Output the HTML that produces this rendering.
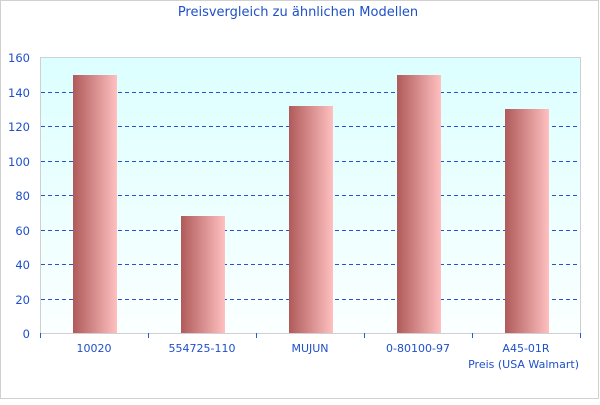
<!DOCTYPE html>
<html><head><style>body{margin:0;background:#fff}</style></head><body>
<svg width="600" height="400" xmlns="http://www.w3.org/2000/svg" font-family="DejaVu Sans, sans-serif">
<defs>
<linearGradient id="bg" x1="0" y1="0" x2="0" y2="1"><stop offset="0" stop-color="#dcffff"/><stop offset="1" stop-color="#fbffff"/></linearGradient>
<linearGradient id="bar" x1="0" y1="0" x2="1" y2="0"><stop offset="0" stop-color="#b05a5a"/><stop offset="1" stop-color="#ffc0c0"/></linearGradient>
</defs>
<rect x="0.5" y="0.5" width="598" height="398" fill="#fff" stroke="#d0d0d0"/>
<text x="298" y="16" font-size="13" fill="#1e50c8" text-anchor="middle">Preisvergleich zu ähnlichen Modellen</text>
<rect x="40.5" y="57.5" width="540" height="276" fill="url(#bg)" stroke="#d0d0d0"/>
<g stroke="#2850d0" stroke-dasharray="4,3" stroke-width="1">
<line x1="41" x2="580" y1="92.5" y2="92.5"/><line x1="41" x2="580" y1="126.5" y2="126.5"/><line x1="41" x2="580" y1="161.5" y2="161.5"/><line x1="41" x2="580" y1="195.5" y2="195.5"/><line x1="41" x2="580" y1="230.5" y2="230.5"/><line x1="41" x2="580" y1="264.5" y2="264.5"/><line x1="41" x2="580" y1="299.5" y2="299.5"/>
</g>
<g fill="url(#bar)">
<rect x="73" y="75" width="44" height="258"/>
<rect x="181" y="216" width="44" height="117"/>
<rect x="289" y="106" width="44" height="227"/>
<rect x="397" y="75" width="44" height="258"/>
<rect x="505" y="109" width="44" height="224"/>
</g>
<g stroke="#1e60d0"><line x1="40.5" x2="40.5" y1="333" y2="338"/><line x1="148.5" x2="148.5" y1="333" y2="338"/><line x1="256.5" x2="256.5" y1="333" y2="338"/><line x1="364.5" x2="364.5" y1="333" y2="338"/><line x1="472.5" x2="472.5" y1="333" y2="338"/><line x1="580.5" x2="580.5" y1="333" y2="338"/></g>
<g font-size="11.5" fill="#1e50c8" text-anchor="end">
<text x="30" y="62">160</text><text x="30" y="97">140</text><text x="30" y="131">120</text><text x="30" y="166">100</text><text x="30" y="200">80</text><text x="30" y="235">60</text><text x="30" y="269">40</text><text x="30" y="304">20</text><text x="30" y="338">0</text>
</g>
<g font-size="11" fill="#1e50c8" text-anchor="middle">
<text x="94" y="352">10020</text><text x="202" y="352">554725-110</text><text x="310" y="352">MUJUN</text><text x="418" y="352">0-80100-97</text><text x="526" y="352">A45-01R</text>
<text x="579" y="368" text-anchor="end">Preis (USA Walmart)</text>
</g>
</svg>
</body></html>
